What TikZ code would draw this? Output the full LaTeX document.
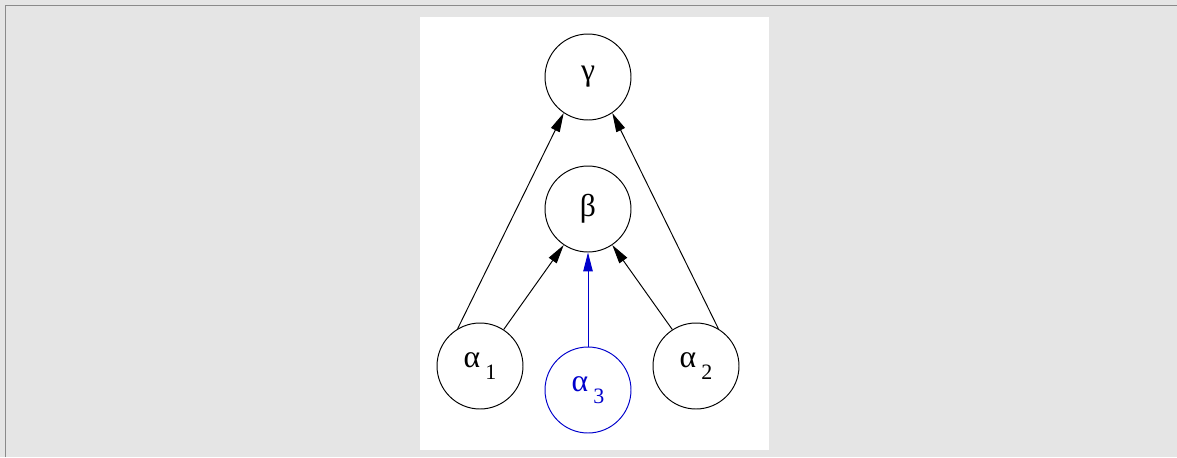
\documentclass[tikz,border=0pt]{standalone}
\usepackage{fontspec}
\setmainfont{Liberation Serif}
\definecolor{dgframe}{HTML}{8A8A8A}
\definecolor{dgback}{HTML}{E5E5E5}
\definecolor{dgblue}{HTML}{0000CC}
\usetikzlibrary{arrows.meta}
\newcommand{\sublbl}[2]{#1\hspace{3pt}\raisebox{-7pt}{\fontsize{12.5}{14}\selectfont #2}}

\begin{document}
\begin{tikzpicture}[x=0.02cm,y=-0.02cm,
  var/.style={draw,circle,minimum size=1.72cm,inner sep=0pt,line width=0.55pt,
    font=\fontsize{18}{21}\selectfont},
  obs/.style={var,draw=dgblue,text=dgblue},
  arr/.style={-{Triangle[length=3.8mm,width=1.9mm]},line width=0.55pt}]
  \useasboundingbox[fill=dgback] (0,0) rectangle (1177,457);
  \draw[dgframe,line width=1.1pt] (5.5,457) -- (5.5,5.5) -- (1177,5.5);
  \fill[white] (420,17) rectangle (769,450);
  \node[var] (g) at (588,77) {γ};
  \node[var] (b) at (588,209) {β};
  \node[var] (a1) at (480,366) {\sublbl{α}{1}};
  \node[var] (a2) at (696,366) {\sublbl{α}{2}};
  \node[obs] (a3) at (588,390) {\sublbl{α}{3}};
  \draw[arr] (a1.121) -- (g.236);
  \draw[arr] (a1.57) -- (b.236);
  \draw[arr] (a2.59) -- (g.304);
  \draw[arr] (a2.123) -- (b.304);
  \draw[arr,dgblue] (a3) -- (b);
\end{tikzpicture}
\end{document}
